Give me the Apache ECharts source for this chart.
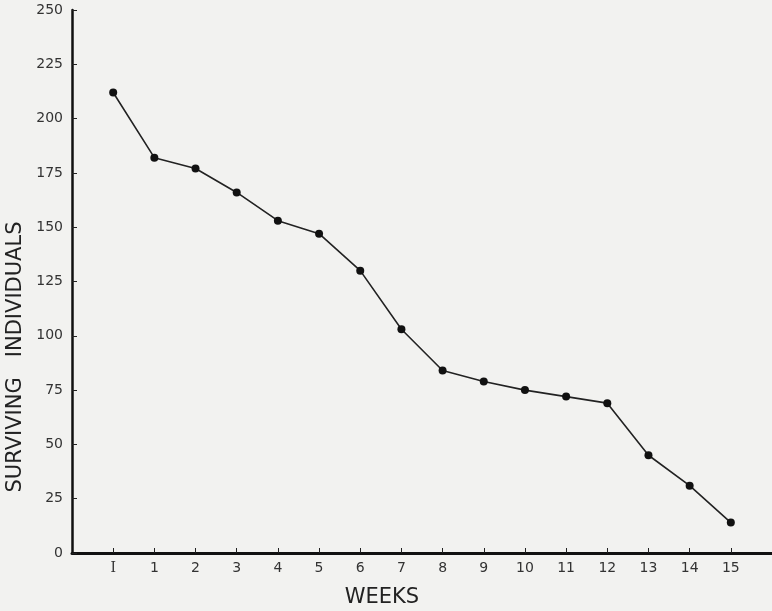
<!DOCTYPE html>
<html>
<head>
<meta charset="utf-8">
<script src="https://cdn.jsdelivr.net/npm/echarts@6/dist/echarts.min.js"></script>
<style>
html,body{margin:0;padding:0;background:#f2f2f0;}
#chart{width:772px;height:611px;}
</style>
</head>
<body>
<div id="chart"></div>
<script>
// Data
var weeks = ['', 'I', '1', '2', '3', '4', '5', '6', '7', '8', '9', '10', '11', '12', '13', '14', '15', ''];
var survivors = [null, 212, 182, 177, 166, 153, 147, 130, 103, 84, 79, 75, 72, 69, 45, 31, 14, null];
var yTicks = [0, 25, 50, 75, 100, 125, 150, 175, 200, 225, 250];
var xTitle = 'WEEKS';
var yTitle = 'SURVIVING   INDIVIDUALS';

var chart = echarts.init(document.getElementById('chart'));
var lastIdx = weeks.length - 1;
chart.setOption({
  backgroundColor: '#f2f2f0',
  animation: false,
  grid: {left: 72, right: 0, top: 10, bottom: 58, containLabel: false},
  xAxis: {
    type: 'category',
    data: weeks,
    boundaryGap: false,
    axisLine: {lineStyle: {color: '#111', width: 3}},
    axisTick: {
      inside: true, length: 5, lineStyle: {color: '#222', width: 1},
      interval: function (i) { return i !== 0 && i !== lastIdx; }
    },
    axisLabel: {
      color: '#333', fontSize: 14, fontFamily: 'DejaVu Sans', margin: 8,
      interval: function (i) { return i !== 0 && i !== lastIdx; },
      formatter: function (v) { return v === 'I' ? '{r|I}' : v; },
      rich: {r: {fontFamily: 'DejaVu Serif', fontSize: 14, color: '#333'}}
    },
    splitLine: {show: false}
  },
  yAxis: {
    type: 'value',
    min: yTicks[0],
    max: yTicks[yTicks.length - 1],
    interval: 25,
    axisLine: {show: true, lineStyle: {color: '#111', width: 2.5}},
    axisTick: {show: true, inside: true, length: 5, lineStyle: {color: '#222', width: 1}},
    axisLabel: {color: '#333', fontSize: 14, fontFamily: 'DejaVu Sans', margin: 9},
    splitLine: {show: false}
  },
  series: [{
    type: 'line',
    data: survivors,
    symbol: 'circle',
    symbolSize: 8,
    connectNulls: false,
    itemStyle: {color: '#111'},
    lineStyle: {color: '#222', width: 1.6}
  }],
  graphic: [
    {
      type: 'text', x: 16, y: 357, rotation: Math.PI / 2,
      style: {text: yTitle, font: '21px "DejaVu Sans"', fill: '#222', textAlign: 'center', textVerticalAlign: 'middle'}
    },
    {
      type: 'text', x: 382, y: 598,
      style: {text: xTitle, font: '21px "DejaVu Sans"', fill: '#222', textAlign: 'center', textVerticalAlign: 'middle'}
    }
  ]
});
</script>
</body>
</html>
